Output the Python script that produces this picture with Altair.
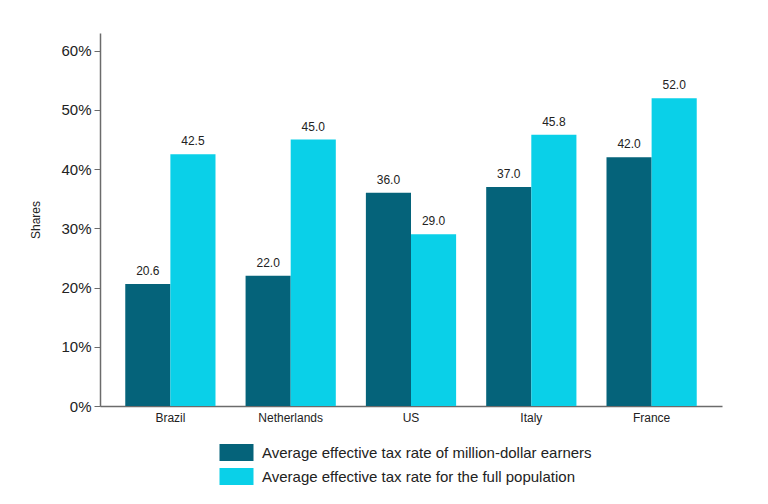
import altair as alt
import pandas as pd

countries = ["Brazil", "Netherlands", "US", "Italy", "France"]
series = [
    "Average effective tax rate of million-dollar earners",
    "Average effective tax rate for the full population",
]
millionaire_rate = [20.6, 22.0, 36.0, 37.0, 42.0]
population_rate = [42.5, 45.0, 29.0, 45.8, 52.0]
colors = ["#05637A", "#0AD0E8"]

rows = []
for i, c in enumerate(countries):
    rows.append({"country": c, "series": series[0], "value": millionaire_rate[i] / 100})
    rows.append({"country": c, "series": series[1], "value": population_rate[i] / 100})
df = pd.DataFrame(rows)

font = "Liberation Sans"

x_enc = alt.X(
    "country:N",
    sort=countries,
    scale=alt.Scale(paddingInner=0.25, paddingOuter=0.21),
    axis=alt.Axis(
        title=None, labelAngle=0, ticks=False, domainColor="#6b6b6b",
        domainWidth=1.5, labelFontSize=12, labelColor="#222", labelPadding=6,
    ),
)
xoff_enc = alt.XOffset("series:N", sort=series, scale=alt.Scale(paddingInner=0, paddingOuter=0))

bars = alt.Chart(df).mark_bar().encode(
    x=x_enc,
    xOffset=xoff_enc,
    y=alt.Y(
        "value:Q",
        scale=alt.Scale(domain=[0, 0.63], nice=False),
        axis=alt.Axis(
            title="Shares", format=".0%", values=[0, 0.1, 0.2, 0.3, 0.4, 0.5, 0.6],
            grid=False, domainColor="#6b6b6b", domainWidth=1.5, tickColor="#6b6b6b",
            tickSize=6, labelFontSize=15, labelColor="#222", labelPadding=3,
            titleFontSize=12, titleFontWeight="normal", titleColor="#222", titlePadding=18,
        ),
    ),
    color=alt.Color(
        "series:N",
        sort=series,
        scale=alt.Scale(domain=series, range=colors),
        legend=alt.Legend(
            title=None, orient="none", legendX=128, legendY=411,
            symbolType="M-2,-1H2V1H-2Z", symbolSize=289, symbolStrokeWidth=0,
            labelFontSize=15, labelColor="#222", labelOffset=17, rowPadding=7,
            labelLimit=500,
        ),
    ),
)

labels = alt.Chart(df).transform_calculate(pct="datum.value * 100").mark_text(
    baseline="bottom", dy=-6, fontSize=12, color="#222", font=font
).encode(
    x=alt.X("country:N", sort=countries),
    xOffset=alt.XOffset("series:N", sort=series),
    y=alt.Y("value:Q"),
    text=alt.Text("pct:Q", format=".1f"),
)

chart = (
    alt.layer(bars, labels)
    .properties(
        width=622, height=373,
        autosize=alt.AutoSizeParams(type="none"),
        padding={"left": 92, "top": 25, "right": 30, "bottom": 90},
        view=alt.ViewBackground(stroke="transparent", strokeWidth=0),
    )
    .configure_view(stroke="transparent", strokeWidth=0)
    .configure(font=font)
)

chart.save("out.html", embed_options={"renderer": "svg", "actions": False})
